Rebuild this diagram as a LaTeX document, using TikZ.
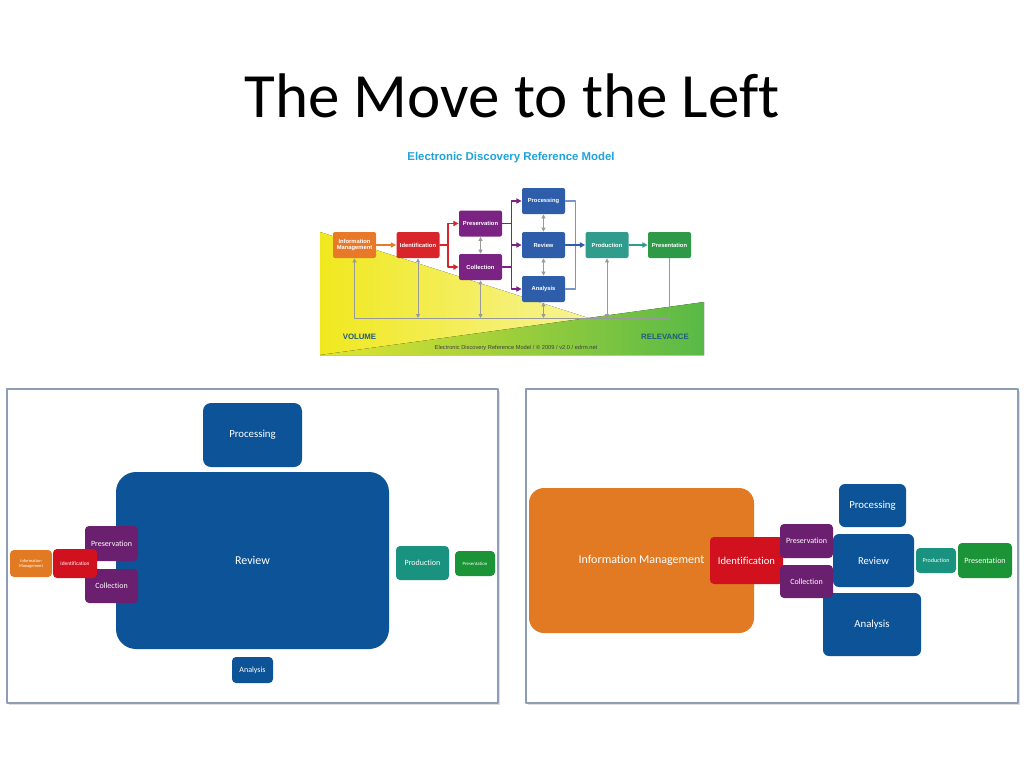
\documentclass[tikz,border=0pt]{standalone}
\usepackage{fontspec}
\setmainfont{Carlito}[Ligatures=NoCommon]
\newfontfamily\edrmfont{Liberation Sans}
\usetikzlibrary{arrows.meta}
% top model colours
\definecolor{edrmorange}{HTML}{E8792B}
\definecolor{edrmred}{HTML}{D9242B}
\definecolor{edrmpurple}{HTML}{7A2383}
\definecolor{edrmblue}{HTML}{2E5DAA}
\definecolor{edrmteal}{HTML}{2F9C8C}
\definecolor{edrmgreen}{HTML}{2E9A48}
\definecolor{edrmcyan}{HTML}{1FA3DC}
\definecolor{edrmlabel}{HTML}{1F5C7A}
% panel colours
\definecolor{imorange}{HTML}{E17A22}
\definecolor{idred}{HTML}{D2111F}
\definecolor{ppurple}{HTML}{6B1F6F}
\definecolor{rblue}{HTML}{0C5398}
\definecolor{pteal}{HTML}{19927F}
\definecolor{pgreen}{HTML}{1B9437}
\definecolor{frame}{HTML}{8E9CB4}
\tikzset{
  txt/.style={font=\fontsize{#1}{#1}\selectfont},
  ebox/.style={fill=#1, rounded corners=1pt, inner sep=0pt, minimum width=21.5pt,
    minimum height=13pt, text=white, align=center,
    font=\edrmfont\bfseries\fontsize{2.9}{3.4}\selectfont},
  blk/.style={fill=#1, rounded corners=2pt, inner sep=0pt, text=white, align=center},
  flow/.style={-{Triangle[length=2.6pt,width=2.6pt]}, line width=0.6pt},
  fbline/.style={draw=gray!80, line width=0.5pt},
  fbtip/.style={{Triangle[length=2pt,width=2pt]}-{Triangle[length=2pt,width=2pt]}},
}
\begin{document}
\begin{tikzpicture}[x=0.5pt, y=-0.5pt, line cap=round, line join=round]
  \useasboundingbox[fill=white] (0,0) rectangle (1024,768);
  % --- title ---
  \node[anchor=base, txt=31.5] (title) at (512,117) {The Move to the Left};

  % --- EDRM model (top) ---
  \node[edrmcyan, font=\edrmfont\bfseries\fontsize{5.7}{6}\selectfont] (etitle) at (511,158)
    {Electronic Discovery Reference Model};
  % background triangles
  \fill[left color={rgb,255:red,240;green,232;blue,30}, right color={rgb,255:red,250;green,248;blue,200}]
    (320,232) -- (704,355) -- (320,355) -- cycle;
  \fill[left color={rgb,255:red,226;green,228;blue,48}, right color={rgb,255:red,88;green,185;blue,71}]
    (704,302) -- (704,355) -- (320,355) -- cycle;
  \node[edrmlabel, font=\edrmfont\bfseries\fontsize{3.9}{4}\selectfont] (evol) at (359.5,337) {VOLUME};
  \node[edrmlabel, font=\edrmfont\bfseries\fontsize{3.9}{4}\selectfont] (erel) at (665,337) {RELEVANCE};
  \node[black!75, font=\edrmfont\fontsize{2.85}{3}\selectfont] (efoot) at (516,348)
    {Electronic Discovery Reference Model / \textcopyright{} 2009 / v2.0 / edrm.net};
  % boxes
  \node[ebox=edrmorange] (eim) at (354.5,245) {Information\\Management};
  \node[ebox=edrmred] (eident) at (418,245) {Identification};
  \node[ebox=edrmpurple] (epreserv) at (480.5,223.5) {Preservation};
  \node[ebox=edrmpurple] (ecollect) at (480.5,267) {Collection};
  \node[ebox=edrmblue] (eproc) at (543.5,201) {Processing};
  \node[ebox=edrmblue] (ereview) at (543.5,245) {Review};
  \node[ebox=edrmblue] (eanal) at (543.5,289) {Analysis};
  \node[ebox=edrmteal] (eprod) at (607,245) {Production};
  \node[ebox=edrmgreen] (epresent) at (669.5,245) {Presentation};
  % flow arrows
  \draw[flow, edrmorange] (eim) -- (eident);
  \draw[flow, edrmred] (eident.east) -- ++(8,0) coordinate (rbus) |- (epreserv.west);
  \draw[flow, edrmred] (rbus) |- (ecollect.west);
  \draw[flow, edrmpurple] (epreserv.east) -- ++(9,0) coordinate (pbus) |- (eproc.west);
  \draw[flow, edrmpurple] (pbus) |- (eanal.west);
  \draw[flow, edrmpurple] (pbus |- ereview.west) -- (ereview.west);
  \draw[edrmpurple, line width=0.6pt] (ecollect.east) -- (pbus |- ecollect.east);
  \draw[edrmblue!65, line width=0.6pt] (eproc.east) -- ++(10,0) |- (eanal.east);
  \draw[flow, edrmblue] (ereview) -- (eprod);
  \draw[flow, edrmteal] (eprod) -- (epresent);
  % gray double arrows
  \draw[fbline, fbtip] (epreserv) -- (ecollect);
  \draw[fbline, fbtip] (eproc) -- (ereview);
  \draw[fbline, fbtip] (ereview) -- (eanal);
  % feedback line
  \coordinate (fb) at (0,318);
  \draw[fbline] (eim.south |- fb) -- (epresent.south |- fb) -- (epresent.south);
  \draw[fbline, -{Triangle[length=2pt,width=2pt]}] (eim.south |- fb) -- (eim.south);
  \foreach \n in {eident, ecollect, eanal, eprod}
    \draw[fbline, fbtip] (\n.south |- fb) -- (\n.south);

  % --- left panel ---
  \fill[gray!25] (9,391) rectangle (500,705);
  \draw[frame, line width=1.3pt, fill=white] (7,389) rectangle (498,703);
  \node[blk=rblue, rounded corners=10pt, minimum width=136.5pt, minimum height=88.5pt, txt=6] (lreview) at (252.5,560.5) {Review};
  \node[blk=rblue, rounded corners=4pt, minimum width=49.5pt, minimum height=32pt, txt=5.4] (lproc) at (252.5,435) {Processing};
  \node[blk=rblue, minimum width=20.5pt, minimum height=13pt, txt=4] (lanal) at (252.5,670) {Analysis};
  \node[blk=ppurple, minimum width=26.5pt, minimum height=17.5pt, txt=4] (lpreserv) at (111.5,543.5) {Preservation};
  \node[blk=ppurple, minimum width=26.5pt, minimum height=17pt, txt=4] (lcollect) at (111.5,586) {Collection};
  \node[blk=idred, minimum width=22pt, minimum height=14.5pt, txt=2.7] (lident) at (75,563.5) {Identification};
  \node[blk=imorange, minimum width=21pt, minimum height=13.5pt, font=\fontsize{2.2}{2.6}\selectfont] (lim) at (31,563.5) {Information\\Management};
  \node[blk=pteal, minimum width=26.5pt, minimum height=17pt, txt=4] (lprod) at (422.5,563) {Production};
  \node[blk=pgreen, minimum width=20pt, minimum height=12.5pt, txt=2.4] (lpresent) at (475,563.5) {Presentation};

  % --- right panel ---
  \fill[gray!25] (528,391) rectangle (1020,705);
  \draw[frame, line width=1.3pt, fill=white] (526,389) rectangle (1018,703);
  \node[blk=imorange, rounded corners=7.5pt, minimum width=112.5pt, minimum height=72.5pt, txt=6] (rim) at (641.5,560.5) {Information Management};
  \node[blk=idred, minimum width=36.5pt, minimum height=23.5pt, txt=5.3] (rident) at (746.5,560.5) {Identification};
  \node[blk=rblue, rounded corners=3pt, minimum width=40.5pt, minimum height=26.5pt, txt=5.3] (rreview) at (873.5,560.5) {Review};
  \node[blk=rblue, rounded corners=3pt, minimum width=33.5pt, minimum height=21.5pt, txt=5.4] (rproc) at (872.5,505.5) {Processing};
  \node[blk=rblue, rounded corners=3pt, minimum width=49pt, minimum height=31.5pt, txt=5.4] (ranal) at (872,624.5) {Analysis};
  \node[blk=ppurple, minimum width=26.5pt, minimum height=17pt, txt=4] (rpreserv) at (806.5,541) {Preservation};
  \node[blk=ppurple, minimum width=26.5pt, minimum height=16.5pt, txt=4] (rcollect) at (806.5,581.5) {Collection};
  \node[blk=pteal, minimum width=20pt, minimum height=12.5pt, txt=3] (rprod) at (936,560.5) {Production};
  \node[blk=pgreen, minimum width=27pt, minimum height=17.5pt, txt=4] (rpresent) at (985,560.5) {Presentation};
\end{tikzpicture}
\end{document}
